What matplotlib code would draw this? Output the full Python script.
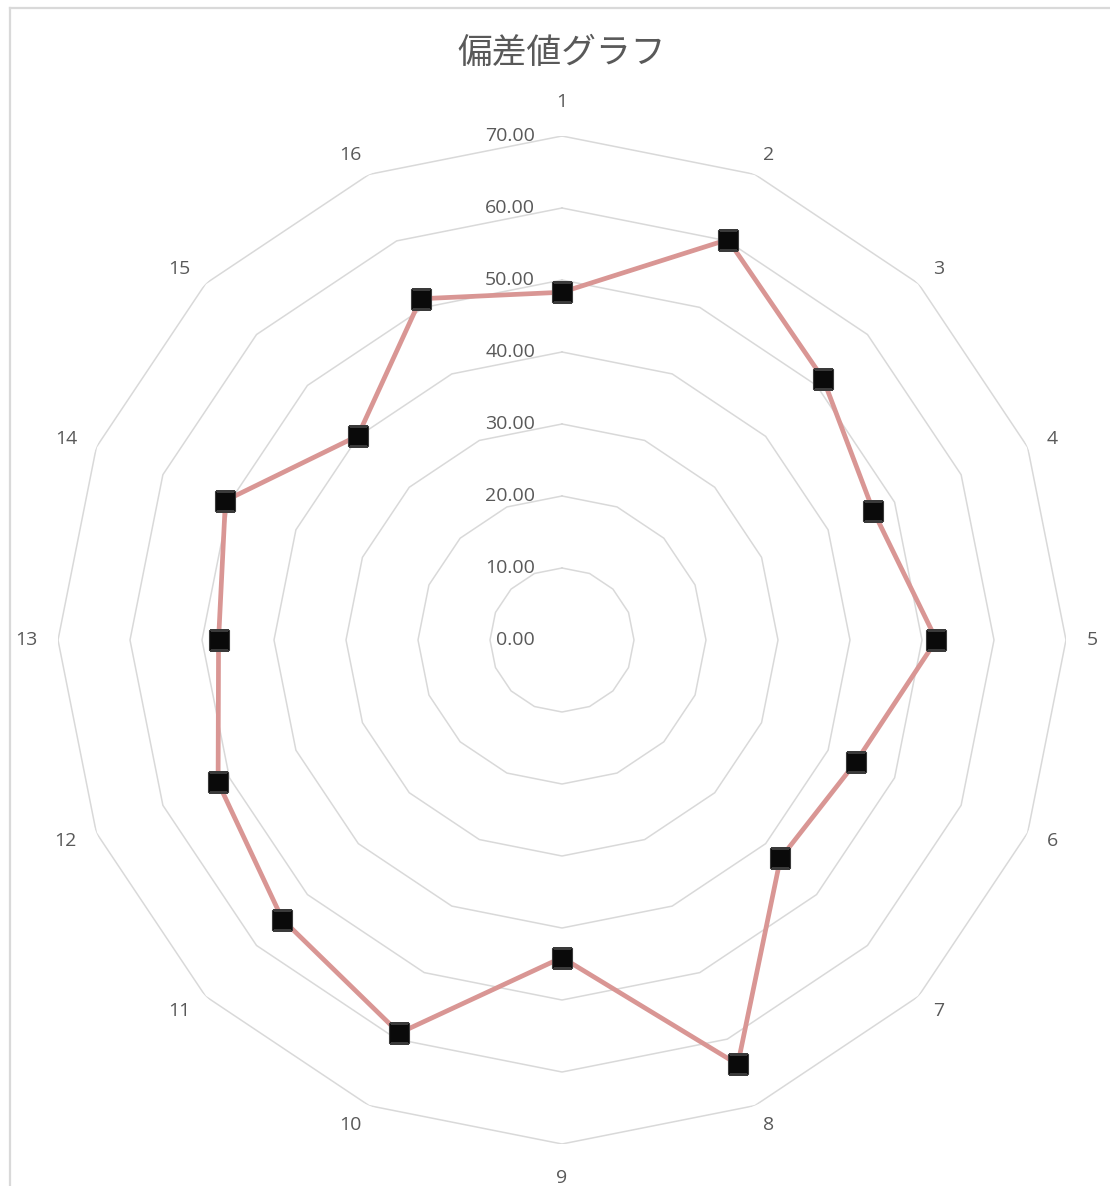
import numpy as np
import matplotlib.pyplot as plt
from matplotlib.lines import Line2D

plt.rcParams['font.family'] = ['Open Sans', 'Noto Sans CJK JP', 'DejaVu Sans']

# データ
categories = [str(i) for i in range(1, 17)]
values = [48.3, 60.2, 51.3, 46.8, 52.0, 44.2, 42.9, 63.8,
          44.1, 59.1, 54.9, 51.7, 47.7, 50.6, 40.1, 51.3]
rings = [0, 10, 20, 30, 40, 50, 60, 70]
ring_labels = ['%.2f' % r for r in rings]
title = '偏差値グラフ'

W, H = 1110, 1186
fig = plt.figure(figsize=(W / 100, H / 100), dpi=100)

# 中心 (562, 640) px、半径 504 px
cx, cy, R = 562, 640, 504
ax = fig.add_axes([(cx - R) / W, (H - cy - R) / H, 2 * R / W, 2 * R / H],
                  projection='polar')
ax.set_theta_zero_location('N')
ax.set_theta_direction(-1)
ax.set_ylim(0, 70)
ax.grid(False)
ax.set_xticks([])
ax.set_yticks([])
ax.spines['polar'].set_visible(False)
ax.patch.set_alpha(0)

n = len(categories)
theta = np.linspace(0, 2 * np.pi, n, endpoint=False)
theta_c = np.append(theta, theta[0])

grid_col = '#D9D9D9'
# 多角形の目盛線 (放射線なし)
for r in rings[1:]:
    ax.plot(theta_c, [r] * (n + 1), color=grid_col, lw=1.1, zorder=1)

# データ系列
vals_c = values + values[:1]
ax.plot(theta_c, vals_c, color='#D99694', lw=3.4, zorder=3, solid_joinstyle='round')
ax.plot(theta, values, ls='none', marker='s', ms=15, mfc='#0a0a0a',
        mec='#3a3a3a', mew=0.8, zorder=4)

# 目盛ラベル
for r, lab in zip(rings, ring_labels):
    ax.annotate(lab, xy=(0, r), xytext=(-27, 0),
                textcoords='offset pixels', ha='right', va='center',
                fontsize=14, color='#595959', zorder=5)

# 項目ラベル (外周の頂点から少し離して配置)
gap = 21
for t, lab in zip(theta, categories):
    s, c = np.sin(t), np.cos(t)
    if abs(s) < 1e-6:
        ha = 'center'
        dy = (gap + 13) * np.sign(c)
        dx = 0
    else:
        ha = 'left' if s > 0 else 'right'
        dx, dy = gap * s, gap * c
    ax.annotate(lab, xy=(t, rings[-1]), xytext=(dx, dy),
                textcoords='offset pixels', ha=ha, va='center',
                fontsize=14, color='#595959')

fig.text(cx / W, 1 - 53 / H, title, ha='center', va='center',
         fontsize=25, color='#595959', family=['Noto Sans CJK JP'])

# グラフエリアの枠
bx, by = 9.5 / W, 1 - 7.5 / H
fig.add_artist(Line2D([bx, bx], [0, by], color=grid_col, lw=1.6))
fig.add_artist(Line2D([bx, 1], [by, by], color=grid_col, lw=1.6))

fig.savefig('out.png', dpi=100)
